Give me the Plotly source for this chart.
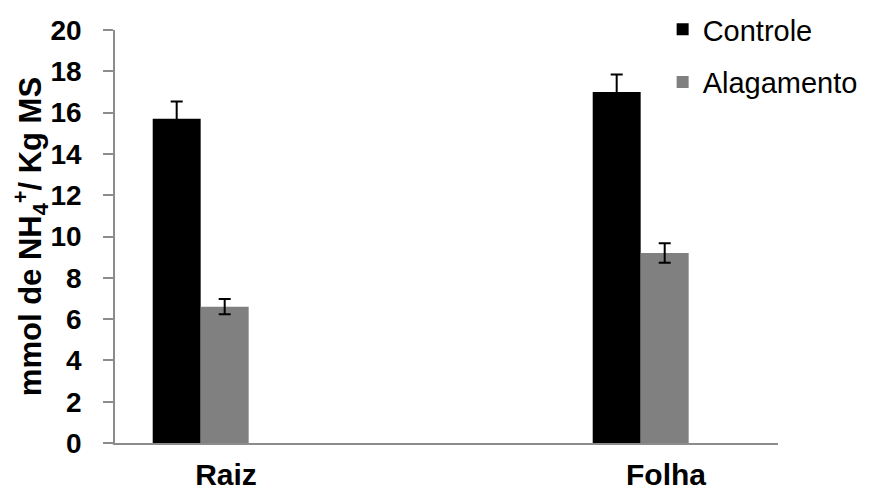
import plotly.graph_objects as go

categories = ["Raiz", "Folha"]
controle = [15.7, 17.0]
controle_err = [0.84, 0.84]
alagamento = [6.6, 9.2]
alagamento_err = [0.37, 0.47]
y_ticks = [0, 2, 4, 6, 8, 10, 12, 14, 16, 18, 20]

xpos = list(range(len(categories)))
bw = 0.109

fig = go.Figure()
fig.add_trace(go.Bar(
    x=xpos, y=controle, name="Controle", marker=dict(color="#000000", line=dict(width=0)),
    width=bw, offset=-0.1666, legendgroup="a",
    error_y=dict(type="data", array=controle_err, color="#000000", thickness=2, width=6),
))
fig.add_trace(go.Bar(
    x=xpos, y=alagamento, name="Alagamento", marker=dict(color="#808080", line=dict(width=0)),
    width=bw, offset=-0.0575, legendgroup="b",
    error_y=dict(type="data", array=alagamento_err, color="#000000", thickness=2, width=6),
))

# page body has an 8px default margin, so the figure is 8px smaller and shifted
fig.update_layout(
    width=869, height=485,
    margin=dict(l=107, r=99, t=22, b=50, autoexpand=False),
    paper_bgcolor="white", plot_bgcolor="white",
    barmode="overlay",
    font=dict(family="Liberation Sans, Arial, sans-serif", color="#000000"),
    legend=dict(x=0.826, y=1.063, xanchor="left", yanchor="top",
                font=dict(size=29, color="#000000"), tracegroupgap=12,
                bgcolor="rgba(0,0,0,0)", itemwidth=30),
    xaxis=dict(
        range=[-0.2523, 1.2545], tickvals=xpos, ticktext=[f"<b>{c}</b>" for c in categories],
        showline=True, linecolor="#8c8c8c", linewidth=1.5, ticks="", showgrid=False,
        zeroline=False, tickfont=dict(size=30), ticklabelstandoff=4, automargin=False,
    ),
    yaxis=dict(
        range=[0, 20], tickvals=y_ticks, ticktext=[f"<b>{t}</b>" for t in y_ticks],
        showline=True, linecolor="#8c8c8c", linewidth=1.5, ticks="outside", ticklen=10,
        tickcolor="#8c8c8c", tickwidth=1.5, showgrid=False, zeroline=False,
        tickfont=dict(size=28), ticklabelstandoff=16, automargin=False,
        title=dict(text="<b>mmol de NH<sub>4</sub><sup>+</sup>/ Kg MS</b>", font=dict(size=31), standoff=7),
    ),
    shapes=[dict(type="line", xref="paper", yref="y", x0=-0.016, x1=0, y0=0, y1=0,
                 line=dict(color="#8c8c8c", width=1.5))],
)

fig.write_html("out.html")
